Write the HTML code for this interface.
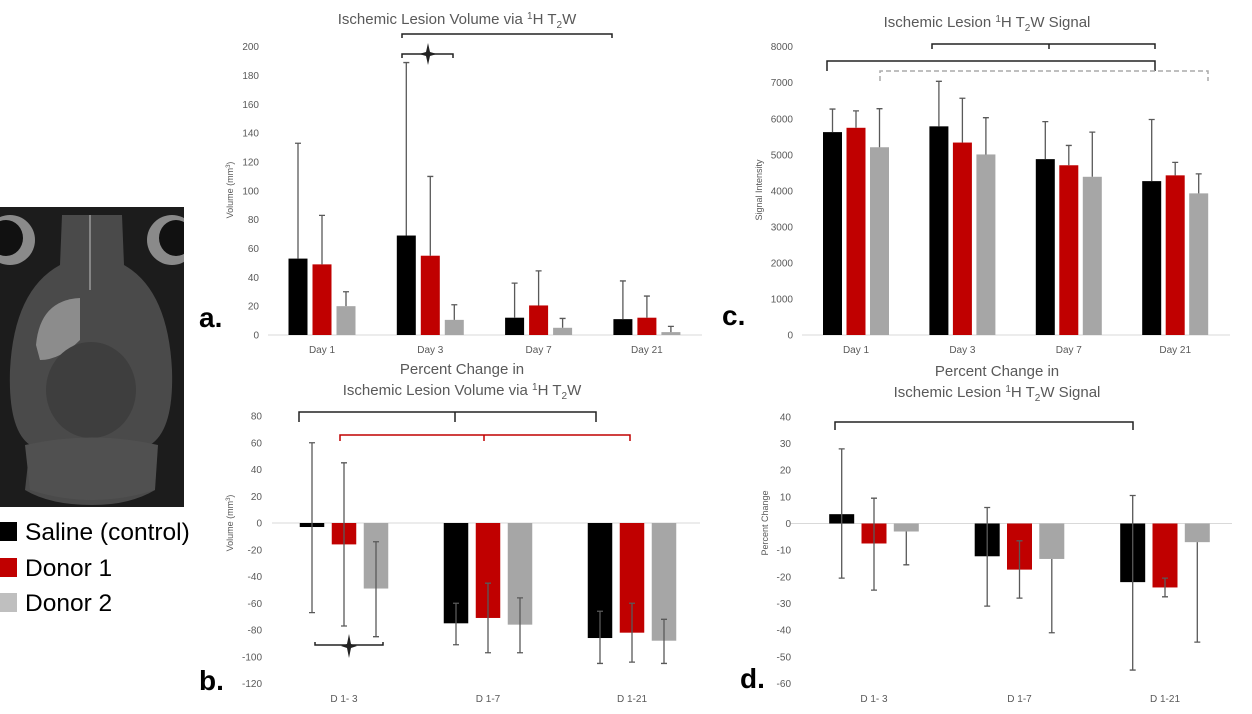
<!DOCTYPE html>
<html><head><meta charset="utf-8"><style>
body{margin:0;background:#fff;width:1252px;height:714px;overflow:hidden;font-family:"Liberation Sans",sans-serif}
svg{display:block}
.t{fill:#595959;font-family:"Liberation Sans",sans-serif}
</style></head><body>
<svg id="s" width="1252" height="714" xmlns="http://www.w3.org/2000/svg">
<defs><clipPath id="bc"><rect x="0" y="207" width="184" height="300"/></clipPath></defs>
<g clip-path="url(#bc)">
<rect x="0" y="207" width="184" height="300" fill="#1c1c1c"/>
<ellipse cx="10" cy="240" rx="25" ry="25" fill="#8a8a8a"/><ellipse cx="6" cy="238" rx="17" ry="18" fill="#111"/>
<ellipse cx="172" cy="240" rx="25" ry="25" fill="#8a8a8a"/><ellipse cx="176" cy="238" rx="17" ry="18" fill="#111"/>
<path d="M62 215 L122 215 L124 265 Q168 290 172 370 Q174 430 150 445 L155 490 Q130 505 92 505 Q50 505 25 490 L30 445 Q8 430 10 370 Q14 290 60 265 Z" fill="#4a4a4a"/>
<path d="M36 345 Q40 300 80 298 L80 340 Q60 360 40 360 Z" fill="#8c8c8c"/>
<ellipse cx="91" cy="390" rx="45" ry="48" fill="#3e3e3e"/>
<path d="M25 445 Q92 430 158 445 L155 490 Q92 510 30 490 Z" fill="#505050"/>
<line x1="90" y1="215" x2="90" y2="290" stroke="#999" stroke-width="1.5"/>
</g>
<g>
<rect x="0" y="522" width="17" height="19" fill="#000"/>
<text x="25" y="540" font-size="24.5" fill="#000">Saline (control)</text>
<rect x="0" y="558" width="17" height="19" fill="#c00000"/>
<text x="25" y="576" font-size="24.5" fill="#000">Donor 1</text>
<rect x="0" y="593" width="17" height="19" fill="#bfbfbf"/>
<text x="25" y="611" font-size="24.5" fill="#000">Donor 2</text>
</g>
<text x="199" y="327" font-size="28" font-weight="bold" fill="#000">a.</text>
<text x="199" y="690" font-size="28" font-weight="bold" fill="#000">b.</text>
<text x="722" y="325" font-size="28" font-weight="bold" fill="#000">c.</text>
<text x="740" y="688" font-size="28" font-weight="bold" fill="#000">d.</text>

<text class="t" x="457" y="24" font-size="15" text-anchor="middle">Ischemic Lesion Volume via <tspan font-size="10" dy="-5">1</tspan><tspan dy="5">H T</tspan><tspan font-size="10" dy="4">2</tspan><tspan dy="-4">W</tspan></text>
<text class="t" x="987" y="27" font-size="15" text-anchor="middle">Ischemic Lesion <tspan font-size="10" dy="-5">1</tspan><tspan dy="5">H T</tspan><tspan font-size="10" dy="4">2</tspan><tspan dy="-4">W Signal</tspan></text>
<text class="t" x="462" y="374" font-size="15" text-anchor="middle">Percent Change in</text>
<text class="t" x="462" y="395" font-size="15" text-anchor="middle">Ischemic Lesion Volume via <tspan font-size="10" dy="-5">1</tspan><tspan dy="5">H T</tspan><tspan font-size="10" dy="4">2</tspan><tspan dy="-4">W</tspan></text>
<text class="t" x="997" y="376" font-size="15" text-anchor="middle">Percent Change in</text>
<text class="t" x="997" y="397" font-size="15" text-anchor="middle">Ischemic Lesion <tspan font-size="10" dy="-5">1</tspan><tspan dy="5">H T</tspan><tspan font-size="10" dy="4">2</tspan><tspan dy="-4">W Signal</tspan></text>

<g fill="none" stroke-width="1.5">
<path d="M402 38 V34 H612 V38" stroke="#222"/>
<path d="M402 58 V54 H453 V58" stroke="#222"/>
<path d="M428 43 L430 52 L437 54 L430 56 L428 65 L426 56 L419 54 L426 52 Z" fill="#222" stroke="none"/>
<path d="M932 49 V44 H1155 V49 M1049 44 V49" stroke="#222"/>
<path d="M827 71 V61 H1155 V71" stroke="#222"/>
<path d="M880 81 V71 H1208 V81" stroke="#aaa" stroke-dasharray="5,3"/>
<path d="M299 422 V412 H596 V422 M455 412 V422" stroke="#222"/>
<path d="M340 441 V435 H630 V441" stroke="#c00000"/>
<path d="M484 435 V441" stroke="#c00000"/>
<path d="M315 642 V645 H383 V642" stroke="#222"/>
<path d="M349 634 L351 644 L357 646 L351 648 L349 658 L347 648 L341 646 L347 644 Z" fill="#222" stroke="none"/>
<path d="M835 430 V422 H1133 V430" stroke="#222"/>
</g>
<g id="charts"></g>
</svg>
<script>
// Chart a: lesion volume
const aCats=["Day 1","Day 3","Day 7","Day 21"];
const aSaline=[53,69,12,11];
const aDonor1=[49,55,20.5,12];
const aDonor2=[20,10.5,5,2];
const aErrSaline=[133,189,36,37.5];
const aErrDonor1=[83,110,44.5,27];
const aErrDonor2=[30,21,11.5,6];
const aTicks=[0,20,40,60,80,100,120,140,160,180,200];
// Chart c: signal
const cCats=["Day 1","Day 3","Day 7","Day 21"];
const cSaline=[5630,5790,4880,4270];
const cDonor1=[5750,5340,4710,4430];
const cDonor2=[5210,5010,4390,3930];
const cErrSaline=[6270,7040,5920,5980];
const cErrDonor1=[6220,6570,5260,4790];
const cErrDonor2=[6280,6030,5630,4470];
const cTicks=[0,1000,2000,3000,4000,5000,6000,7000,8000];
// Chart b: percent change volume
const bCats=["D 1- 3","D 1-7","D 1-21"];
const bSaline=[-3,-75,-86];
const bDonor1=[-16,-71,-82];
const bDonor2=[-49,-76,-88];
const bErrHiSaline=[60,-60,-66];
const bErrLoSaline=[-67,-91,-105];
const bErrHiDonor1=[45,-45,-60];
const bErrLoDonor1=[-77,-97,-104];
const bErrHiDonor2=[-14,-56,-72];
const bErrLoDonor2=[-85,-97,-105];
const bTicks=[80,60,40,20,0,-20,-40,-60,-80,-100,-120];
// Chart d: percent change signal
const dCats=["D 1- 3","D 1-7","D 1-21"];
const dSaline=[3.5,-12.3,-22];
const dDonor1=[-7.5,-17.3,-24];
const dDonor2=[-3,-13.3,-7];
const dErrHiSaline=[28,6,10.5];
const dErrLoSaline=[-20.5,-31,-55];
const dErrHiDonor1=[9.5,-6.5,-20.5];
const dErrLoDonor1=[-25,-28,-27.5];
const dErrHiDonor2=[null,null,null];
const dErrLoDonor2=[-15.5,-41,-44.5];
const dTicks=[40,30,20,10,0,-10,-20,-30,-40,-50,-60];

const NS="http://www.w3.org/2000/svg";
const root=document.getElementById('charts');
const colors=["#000000","#c00000","#a6a6a6"];
const seriesNames=["saline","donor1","donor2"];
function mk(tag,attrs,parent){const e=document.createElementNS(NS,tag);for(const k in attrs)e.setAttribute(k,attrs[k]);(parent||root).appendChild(e);return e;}

function chart(o){
  const g=mk('g',{});
  
  
  const y=v=>o.y0-(v*o.k);
  const x=i=>o.x0+i*o.step;
  o.ticks.forEach(t=>{
    const tx=mk('text',{x:o.labelX,y:y(t)+3.5,'font-size':10,'text-anchor':'end',class:'t'},g);
    tx.textContent=t;
    
    
  });
  const ax=mk('line',{x1:o.axL,x2:o.axR,y1:y(0),y2:y(0),stroke:'#d9d9d9','stroke-width':1},g);
  
  
  o.cats.forEach((c,i)=>{
    const tx=mk('text',{x:x(i),y:o.catY,'font-size':10,'text-anchor':'middle',class:'t'},g);
    tx.textContent=c;
    
    
  });
  const yt=mk('text',{x:0,y:0,'font-size':9,'text-anchor':'middle',class:'t',transform:`translate(${o.ytX},${o.ytY}) rotate(-90)`},g);
  yt.innerHTML=o.ytitle;
  
  
  o.series.forEach((vals,s)=>{
    vals.forEach((v,i)=>{
      const cx=x(i)+(s-1)*o.pitch;
      const top=Math.min(y(v),y(0)), h=Math.abs(y(v)-y(0));
      const r=mk('rect',{x:cx-o.bw/2,y:top,width:o.bw,height:Math.max(h,1),fill:colors[s]},g);
      
      
      const hi=o.hi[s][i], lo=o.lo?o.lo[s][i]:null;
      const a=hi!=null?hi:v, b=lo!=null?lo:v;
      const e=mk('path',{d:`M${cx} ${y(a)} V${y(b)}`+(hi!=null?` M${cx-3} ${y(hi)} H${cx+3}`:'')+(lo!=null?` M${cx-3} ${y(lo)} H${cx+3}`:''),stroke:'#595959','stroke-width':1.3,fill:'none'},g);
      
      
    });
  });
}
chart({name:'chart-a',cats:aCats,series:[aSaline,aDonor1,aDonor2],hi:[aErrSaline,aErrDonor1,aErrDonor2],ticks:aTicks,
  y0:335,k:288.3/200,x0:322,step:108.3,pitch:24,bw:19,labelX:259,axL:268,axR:702,catY:353,ytX:233,ytY:190,ytitle:'Volume (mm<tspan font-size="6" dy="-3">3</tspan><tspan dy="3">)</tspan>'});
chart({name:'chart-c',cats:cCats,series:[cSaline,cDonor1,cDonor2],hi:[cErrSaline,cErrDonor1,cErrDonor2],ticks:cTicks,
  y0:335,k:288.3/8000,x0:856,step:106.4,pitch:23.5,bw:19,labelX:793,axL:802,axR:1230,catY:353,ytX:762,ytY:190,ytitle:'Signal Intensity'});
chart({name:'chart-b',cats:bCats,series:[bSaline,bDonor1,bDonor2],hi:[bErrHiSaline,bErrHiDonor1,bErrHiDonor2],lo:[bErrLoSaline,bErrLoDonor1,bErrLoDonor2],ticks:bTicks,
  y0:523,k:26.75/20,x0:344,step:144,pitch:32,bw:24.5,labelX:262,axL:272,axR:700,catY:702,ytX:233,ytY:523,ytitle:'Volume (mm<tspan font-size="6" dy="-3">3</tspan><tspan dy="3">)</tspan>'});
chart({name:'chart-d',cats:dCats,series:[dSaline,dDonor1,dDonor2],hi:[dErrHiSaline,dErrHiDonor1,dErrHiDonor2],lo:[dErrLoSaline,dErrLoDonor1,dErrLoDonor2],ticks:dTicks,
  y0:523.5,k:26.65/10,x0:874,step:145.5,pitch:32.3,bw:25,labelX:791,axL:791,axR:1232,catY:702,ytX:768,ytY:523,ytitle:'Percent Change'});
</script>
</body></html>
